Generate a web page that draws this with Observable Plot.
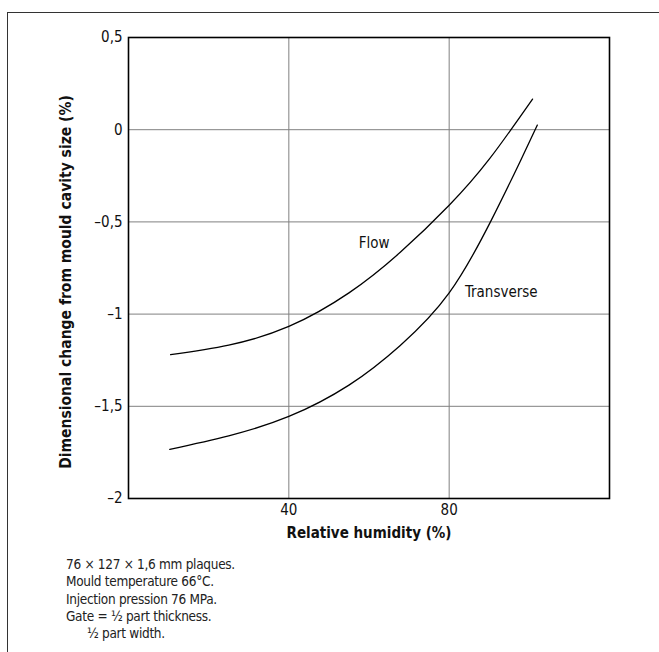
<!DOCTYPE html>
<html>
<head>
<meta charset="utf-8">
<script src="https://cdn.jsdelivr.net/npm/d3@7"></script>
<script src="https://cdn.jsdelivr.net/npm/@observablehq/plot@0.6"></script>
<style>
  html, body { margin: 0; padding: 0; background: #fff; }
  body { width: 659px; height: 652px; position: relative; overflow: hidden;
         font-family: "DejaVu Sans Condensed", "DejaVu Sans", sans-serif; font-stretch: condensed; }
  #border { position: absolute; left: 7px; top: 12px; width: 700px; height: 700px;
            border-left: 1px solid #333; border-top: 1px solid #333; }
  #chart { position: absolute; left: 0; top: 0; }
  #chart svg { font-stretch: condensed; }
  #caption { position: absolute; left: 66px; top: 556px; font-size: 13.5px; letter-spacing: -0.3px; line-height: 17.3px; color: #222; }
  #caption .indent { padding-left: 21px; }
</style>
</head>
<body>
<div id="border"></div>
<div id="chart"></div>
<div id="caption">
  <div>76 × 127 × 1,6 mm plaques.</div>
  <div>Mould temperature 66°C.</div>
  <div>Injection pression 76 MPa.</div>
  <div>Gate = ½ part thickness.</div>
  <div class="indent">½ part width.</div>
</div>
<script>
// Relative humidity (%) and dimensional change (%)
const flowX = [10.5, 25, 40, 55, 67.8, 80, 90, 100.8];
const flowY = [-1.22, -1.168, -1.067, -0.885, -0.665, -0.41, -0.16, 0.166];
const transX = [10.3, 25, 40, 55, 67.8, 80, 90.3, 97.8, 102];
const transY = [-1.733, -1.66, -1.555, -1.385, -1.17, -0.885, -0.5, -0.168, 0.025];
const xTicks = [40, 80];
const yTicks = [-2, -1.5, -1, -0.5, 0, 0.5];
const yGrid = [-1.5, -1, -0.5, 0];
const seriesLabels = [
  {name: "Flow", x: 61.3, y: -0.616},
  {name: "Transverse", x: 93, y: -0.881}
];
const xTitle = "Relative humidity (%)";
const yTitle = "Dimensional change from mould cavity size (%)";

const flow = flowX.map((x, i) => ({x, y: flowY[i]}));
const trans = transX.map((x, i) => ({x, y: transY[i]}));
const fmt = d => d === 0 ? "0" : (d < 0 ? "–" : "") + String(Math.abs(d)).replace(".", ",");

const chart = Plot.plot({
  width: 659,
  height: 550,
  marginLeft: 128,
  marginRight: 50,
  marginTop: 37,
  marginBottom: 52,
  style: {fontFamily: '"DejaVu Sans Condensed", "DejaVu Sans", sans-serif', fontSize: "15px", color: "#111", background: "transparent"},
  x: {domain: [0, 120]},
  y: {domain: [-2, 0.5]},
  marks: [
    Plot.gridX(xTicks, {stroke: "#808080", strokeOpacity: 1, strokeWidth: 1}),
    Plot.gridY(yGrid, {stroke: "#808080", strokeOpacity: 1, strokeWidth: 1}),
    Plot.axisX(xTicks, {tickSize: 0, tickPadding: 6, label: null, tickFormat: d => String(d)}),
    Plot.axisY(yTicks, {tickSize: 0, tickPadding: 6, label: null, tickFormat: fmt}),
    Plot.frame({stroke: "black", strokeWidth: 1.6}),
    Plot.line(flow, {x: "x", y: "y", curve: "natural", stroke: "black", strokeWidth: 1.3}),
    Plot.line(trans, {x: "x", y: "y", curve: "natural", stroke: "black", strokeWidth: 1.3}),
    Plot.text(seriesLabels, {x: "x", y: "y", text: "name", fontSize: 15, fill: "#111"}),
    Plot.text([xTitle], {frameAnchor: "bottom", dy: 39, text: d => d, fontWeight: "bold", fontSize: 15, fill: "#111"}),
    Plot.text([yTitle], {frameAnchor: "left", textAnchor: "middle", dx: -62, dy: 14, rotate: -90, text: d => d, fontWeight: "bold", fontSize: 15.5, fill: "#111"})
  ]
});
document.getElementById("chart").appendChild(chart);
</script>
</body>
</html>
